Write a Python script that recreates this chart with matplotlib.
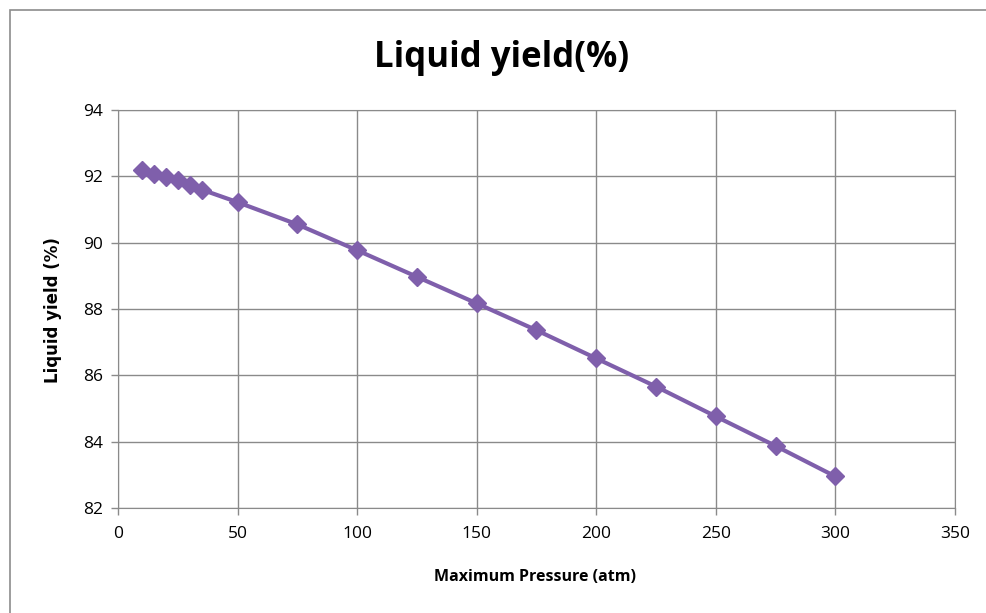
import matplotlib.pyplot as plt
from matplotlib.patches import Rectangle

pressure = [10, 15, 20, 25, 30, 35, 50, 75, 100, 125, 150, 175, 200, 225, 250, 275, 300]
liquid_yield = [92.2, 92.08, 91.98, 91.88, 91.73, 91.6, 91.22, 90.55, 89.77,
                88.97, 88.17, 87.36, 86.51, 85.66, 84.76, 83.87, 82.95]
x_ticks = [0, 50, 100, 150, 200, 250, 300, 350]
y_ticks = [82, 84, 86, 88, 90, 92, 94]

W, H = 987, 613
fig = plt.figure(figsize=(W / 100, H / 100), dpi=100)

# chart frame (Excel style)
fig.patches.append(Rectangle((10 / W, -0.1), 1.2, 1 - 10 / H + 0.1, transform=fig.transFigure,
                             fill=False, edgecolor='#8c8c8c', linewidth=1.2))

ax = fig.add_axes([118 / W, 1 - 508 / H, (955 - 118) / W, (508 - 110) / H])
ax.plot(pressure, liquid_yield, color='#7f5fab', linewidth=3, marker='D',
        markersize=9, markeredgecolor='#7f5fab', zorder=3)

ax.set_xlim(0, 350)
ax.set_ylim(82, 94)
ax.set_xticks(x_ticks)
ax.set_yticks(y_ticks)
ax.grid(True, color='#8a8a8a', linewidth=1)
ax.set_axisbelow(True)
for s in ax.spines.values():
    s.set_color('#8a8a8a')
ax.tick_params(axis='both', colors='#8a8a8a', labelcolor='black', labelsize=12.5, length=5, width=1)
ax.tick_params(axis='x', pad=8)
ax.tick_params(axis='y', pad=6)
for lbl in ax.get_xticklabels() + ax.get_yticklabels():
    lbl.set_family('Open Sans')

fig.text(502 / W, 1 - 58 / H, 'Liquid yield(%)', ha='center', va='center',
         fontsize=25, fontweight='bold', family='Open Sans')
fig.text(535 / W, 1 - 577 / H, 'Maximum Pressure (atm)', ha='center', va='center',
         fontsize=11.5, fontweight='bold', family='Open Sans')
fig.text(53 / W, 1 - 310 / H, 'Liquid yield (%)', ha='center', va='center', rotation=90,
         fontsize=12, fontweight='bold', family='DejaVu Sans')

fig.savefig('out.png', dpi=100)
